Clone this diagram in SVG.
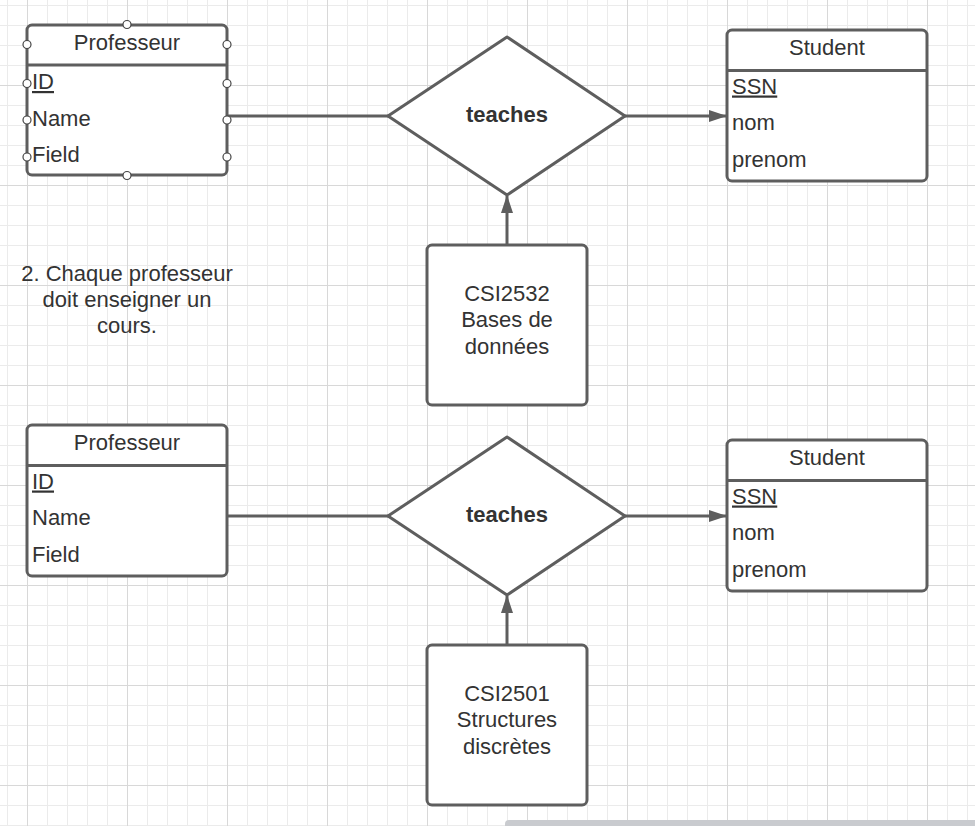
<svg xmlns="http://www.w3.org/2000/svg" width="975" height="826" viewBox="0 0 975 826">
<defs>
<pattern id="minor" x="7" y="5" width="20" height="20" patternUnits="userSpaceOnUse">
<path d="M0.5 0V20M0 0.5H20" stroke="#ebebeb" stroke-width="1" fill="none"/>
</pattern>
<pattern id="major" x="27" y="85" width="100" height="100" patternUnits="userSpaceOnUse">
<path d="M0.5 0V100M0 0.5H100" stroke="#d8d8d8" stroke-width="1" fill="none"/>
</pattern>
<marker id="arr" markerWidth="18" markerHeight="12" refX="17" refY="6" orient="auto" markerUnits="userSpaceOnUse">
<path d="M0 0L18 6L0 12Z" fill="#5e5e5e"/>
</marker>
</defs>
<style>
.box{fill:#fff;stroke:#5e5e5e;stroke-width:3}
.ln{stroke:#5e5e5e;stroke-width:3;fill:none}
.t{font-family:"Liberation Sans",Arial,sans-serif;font-size:22px;fill:#333}
.c{text-anchor:middle}
.b{font-weight:bold}
.h{fill:#fff;stroke:#444;stroke-width:1.2}
</style>
<rect width="975" height="826" fill="#fff"/>
<rect width="975" height="826" fill="url(#minor)"/>
<rect width="975" height="826" fill="url(#major)"/>

<g id="connectors">
<line class="ln" x1="227" y1="116" x2="388" y2="116"/>
<line class="ln" x1="625" y1="116" x2="726" y2="116" marker-end="url(#arr)"/>
<line class="ln" x1="507" y1="245" x2="507" y2="196" marker-end="url(#arr)"/>
<line class="ln" x1="227" y1="516" x2="388" y2="516"/>
<line class="ln" x1="625" y1="516" x2="726" y2="516" marker-end="url(#arr)"/>
<line class="ln" x1="507" y1="645" x2="507" y2="596" marker-end="url(#arr)"/>
</g>

<g id="prof1">
<rect class="box" x="27" y="25" width="200" height="150" rx="5"/>
<line class="ln" x1="27" y1="65" x2="227" y2="65"/>
<text class="t c" x="127" y="50">Professeur</text>
<text class="t" x="32" y="89" text-decoration="underline">ID</text>
<text class="t" x="32" y="125.5">Name</text>
<text class="t" x="32" y="162">Field</text>
<circle class="h" cx="127" cy="24.5" r="4"/>
<circle class="h" cx="127" cy="175.5" r="4"/>
<circle class="h" cx="27" cy="44.5" r="4"/>
<circle class="h" cx="27" cy="83.5" r="4"/>
<circle class="h" cx="27" cy="120" r="4"/>
<circle class="h" cx="27" cy="157" r="4"/>
<circle class="h" cx="227" cy="44.5" r="4"/>
<circle class="h" cx="227" cy="83.5" r="4"/>
<circle class="h" cx="227" cy="120" r="4"/>
<circle class="h" cx="227" cy="157" r="4"/>
</g>

<g id="teaches1">
<path class="box" stroke-linejoin="round" d="M507 37L625 116L507 195L388 116Z"/>
<text class="t c b" x="507" y="122">teaches</text>
</g>

<g id="student1">
<rect class="box" x="727" y="30" width="200" height="151" rx="5"/>
<line class="ln" x1="727" y1="70.5" x2="927" y2="70.5"/>
<text class="t c" x="827" y="54.5">Student</text>
<text class="t" x="732" y="93.5" text-decoration="underline">SSN</text>
<text class="t" x="732" y="130">nom</text>
<text class="t" x="732" y="166.5">prenom</text>
</g>

<g id="course1">
<rect class="box" x="427" y="245" width="160" height="160" rx="5"/>
<text class="t c" x="507" y="301">CSI2532</text>
<text class="t c" x="507" y="327">Bases de</text>
<text class="t c" x="507" y="353.5">données</text>
</g>

<g id="note">
<text class="t c" x="127" y="281" font-size="21.2px">2. Chaque professeur</text>
<text class="t c" x="127" y="307" font-size="21.2px">doit enseigner un</text>
<text class="t c" x="127" y="333" font-size="21.2px">cours.</text>
</g>

<g id="prof2">
<rect class="box" x="27" y="425" width="200" height="151" rx="5"/>
<line class="ln" x1="27" y1="465.5" x2="227" y2="465.5"/>
<text class="t c" x="127" y="450">Professeur</text>
<text class="t" x="32" y="488.5" text-decoration="underline">ID</text>
<text class="t" x="32" y="525">Name</text>
<text class="t" x="32" y="561.5">Field</text>
</g>

<g id="teaches2">
<path class="box" stroke-linejoin="round" d="M507 437L625 516L507 595L388 516Z"/>
<text class="t c b" x="507" y="522">teaches</text>
</g>

<g id="student2">
<rect class="box" x="727" y="440" width="200" height="151" rx="5"/>
<line class="ln" x1="727" y1="480.5" x2="927" y2="480.5"/>
<text class="t c" x="827" y="464.5">Student</text>
<text class="t" x="732" y="503.5" text-decoration="underline">SSN</text>
<text class="t" x="732" y="540">nom</text>
<text class="t" x="732" y="576.5">prenom</text>
</g>

<g id="course2">
<rect class="box" x="427" y="645" width="160" height="160" rx="5"/>
<text class="t c" x="507" y="701">CSI2501</text>
<text class="t c" x="507" y="727">Structures</text>
<text class="t c" x="507" y="753.5">discrètes</text>
</g>

<rect x="505" y="820" width="480" height="10" rx="4" fill="#c9cbcf"/>
</svg>
